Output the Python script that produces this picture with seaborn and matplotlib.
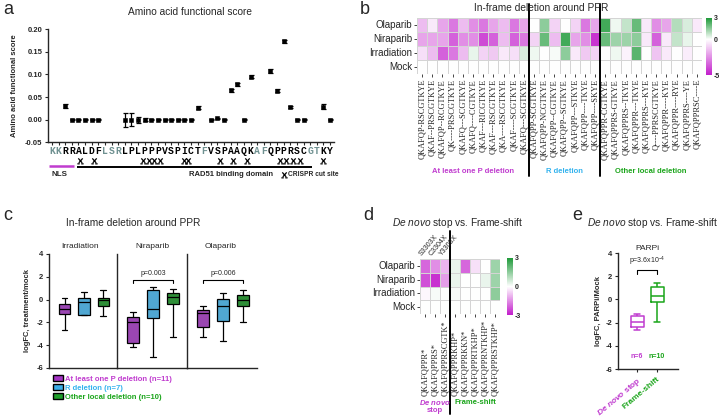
import numpy as np
import pandas as pd
import matplotlib
matplotlib.use("Agg")
import matplotlib.pyplot as plt
import matplotlib.transforms as mtransforms
import seaborn as sns
from matplotlib.colors import LinearSegmentedColormap
from matplotlib.path import Path
from matplotlib.patches import Patch

sns.set_style("ticks")
plt.rcParams['font.family'] = ['Liberation Sans', 'DejaVu Sans']
plt.rcParams['mathtext.fontset'] = 'custom'
plt.rcParams['mathtext.rm'] = 'Liberation Sans'
plt.rcParams['mathtext.it'] = 'Liberation Sans:italic'
plt.rcParams['mathtext.bf'] = 'Liberation Sans:bold:italic'
plt.rcParams['axes.linewidth'] = 1.0

# ---------------- data ----------------
# panel a
residues = list("KKRRALDFLSRLPLPPPVSPICTFVSPAAQKAFQPPRSCGTKY")
aa_score = [np.nan, np.nan, 0.030, 0, 0, 0, 0, 0, np.nan, np.nan, np.nan,
            0, 0, 0, 0, 0, 0, 0, 0, 0, 0, 0, 0.027, np.nan, 0, 0.003, 0,
            0.065, 0.078, 0, 0.095, np.nan, np.nan, 0.108, 0.064, 0.173,
            0.029, 0, 0, np.nan, np.nan, 0.029, 0]
aa_err = [0, 0, 0.004, 0.0015, 0.0015, 0.0015, 0.0015, 0.0015, 0, 0, 0,
          0.015, 0.014, 0.007, 0.003, 0.0015, 0.0015, 0.0015, 0.0015, 0.0015,
          0.0015, 0.0015, 0.004, 0, 0.0015, 0.002, 0.0015, 0.003, 0.003,
          0.0015, 0.004, 0, 0, 0.004, 0.003, 0.003, 0.002, 0.0015, 0.0015,
          0, 0, 0.005, 0.0015]
cut_sites = [5.2, 7.4, 14.8, 15.6, 16.4, 17.3, 20.9, 21.5, 26.4, 28.3, 30.4,
             35.4, 36.4, 37.4, 38.4, 41.9]

# panel b
treatments = ["Olaparib", "Niraparib", "Irradiation", "Mock"]
labels_p_del = ["QKAFQP-RSCGTKYE", "QKAF--PRSCGTKYE", "QKAFQP--RCGTKYE",
                "QK----PRSCGTKYE", "QKAFQ---SCGTKYE", "QKAFQ----CGTKYE",
                "QKAF---RICGTKYE", "QKAF---RSCGTKYE", "QKA----RSCGTKYE",
                "QKAF----SCGTKYE", "QKAFQ---SCGTKYE"]
labels_r_del = ["QKAFQPP-SCGTKYE", "QKAFQPP-NCGTKYE", "QKAFQPP--CGTKYE",
                "QKAFQPP--SGTKYE", "QKAFQPP---STKYE", "QKAFQPP----TKYE",
                "QKAFQPP----SKYE"]
labels_other = ["QKAFQPPR-CGTKYE", "QKAFQPPRS-GTKYE", "QKAFQPPRS--TKYE",
                "QKAFQPPR---TKYE", "QKAFQPPRS---KYE", "Q----PPRSCGTKYE",
                "QKAFQPPR----KYE", "QKAFQPPR----RYE", "QKAFQPPRS----YE",
                "QKAFQPPRSC----E"]
olaparib_b = [-1.5, -0.5, -2, -3, -1.5, -2.5, -3, -2, -1.5, -3, -2,
              0, 1.5, -1, 0, -1, -3, -2,
              2.5, 0.2, 0.8, 2, -0.5, -2.5, -2, 1, 0.5, -0.5]
niraparib_b = [-2, -2, -2, -3.5, -2.5, -2.5, -4, -3.5, -1.5, -3.5, -3,
               -1, 2, -1.5, 2.5, -2, -2.5, -4.5,
               2, 1.3, 1.3, 1.5, -0.5, -3.5, -0.5, 0.8, 0.3, 0]
irradiation_b = [-0.7, -1.5, -3.5, -3, -1.5, 0.3, -1, -1.2, -0.5, -0.7, 0.5,
                 0.2, 0, 0.1, 1.5, -0.5, -1.2, -1,
                 0, 0.2, -0.3, 2.2, 0, -1.3, -0.5, 0, -0.4, 0]
mock_b = [0] * 28

# panel c (five-number summaries: min, q1, median, q3, max)
irr_p_del = [-2.7, -1.24, -0.8, -0.4, 0.18]
irr_r_del = [-1.33, -1.33, -0.2, 0.15, 0.68]
irr_other = [-1.42, -0.6, -0.05, 0.15, 0.88]
nir_p_del = [-4.15, -3.85, -2.0, -1.5, -1.1]
nir_r_del = [-5.0, -1.62, -0.8, 0.88, 1.08]
nir_other = [-3.3, -0.35, 0.2, 0.6, 0.94]
ola_p_del = [-3.25, -2.36, -1.2, -0.9, -0.6]
ola_r_del = [-3.6, -1.9, -0.6, 0.06, 0.6]
ola_other = [-2.0, -0.6, 0.0, 0.44, 0.88]
facets_c = ["Irradiation", "Niraparib", "Olaparib"]
groups_c = ["At least one P deletion", "R deletion", "Other local deletion"]
n_c = [11, 7, 10]
pvals_c = {"Niraparib": "p=0.003", "Olaparib": "p=0.006"}

# panel d
labels_stop = ["QKAFQPPR*", "QKAFQPPRS*", "QKAFQPPRSCGTK*"]
labels_fs = ["QKAFQPPRKHP*", "QKAFQPPRKKN*", "QKAFQPPRTKHP*",
             "QKAFQPPRNTKHP*", "QKAFQPPRSTKHP*"]
top_labels_stop = ["S3303X", "C3304X", "Y3308X"]
olaparib_d = [-2, -1.5, -1, 0.3, -2, -0.4, 0, 1.3]
niraparib_d = [-2.3, -2.7, -1.3, 0.3, 0, 0, 0.3, 1.3]
irradiation_d = [-0.1, 0.1, 0, 0.1, 0, 0, 0, 1.5]
mock_d = [0] * 8

# panel e
stop_e = [-2.65, -2.42, -1.92, -1.45, -1.24]
fs_e = [-1.92, -0.2, 0.33, 1.06, 1.42]
groups_e = ["De novo stop", "Frame-shift"]
n_e = [6, 10]

# ---------------- style ----------------
MAG_T = '#C03CCF'
BLUE_T = '#33B3EE'
GREEN_T = '#1AA51A'
BOX_C = ['#A434C4', '#3AAEE8', '#1E9E2A']
GRAY_AA = '#6F9191'
cmap_b = LinearSegmentedColormap.from_list(
    'b', [(0, '#C21DCB'), (5 / 8, '#FFFFFF'), (1, '#1F9A3A')])
cmap_d = LinearSegmentedColormap.from_list(
    'd', [(0, '#C21DCB'), (0.5, '#FFFFFF'), (1, '#1F9A3A')])

W, H = 722, 418
fig = plt.figure(figsize=(W / 100, H / 100), dpi=100)


def px_axes(l, t, r, b):
    return fig.add_axes([l / W, 1 - b / H, (r - l) / W, (b - t) / H])


def ftext(x, y, s, **kw):
    return fig.text(x / W, 1 - y / H, s, **kw)


def fy(y):
    return 1 - y / H


# panel letters
for let, (x, y) in zip("abcde", [(3, 10), (360, 10), (3, 216), (363, 216), (572, 216)]):
    ftext(x, y, let, fontsize=13, va='center', ha='left')

# ---------------- panel a ----------------
axa = px_axes(48, 29, 334, 142.5)
pos = np.arange(1, len(residues) + 1)
df_a = pd.DataFrame({'pos': pos, 'score': aa_score, 'err': aa_err}).dropna()
axa.errorbar(df_a['pos'], df_a['score'], yerr=df_a['err'], fmt='none',
             ecolor='black', elinewidth=0.9, capsize=1.8, capthick=0.9, zorder=2)
sns.scatterplot(data=df_a, x='pos', y='score', ax=axa, color='black', marker='s',
                s=9, edgecolor='black', linewidth=0.4, zorder=3)
axa.set_xlim(0.4, 43.6)
axa.set_ylim(-0.05, 0.20)
yt = [-0.05, 0, 0.05, 0.10, 0.15, 0.20]
axa.set_yticks(yt)
axa.set_yticklabels([f"{v:.2f}" for v in yt], fontsize=5.5, fontweight='bold')
axa.set_xticks(pos)
axa.set_xticklabels([])
axa.tick_params(axis='x', length=2.5, width=0.8, direction='out')
axa.tick_params(axis='y', length=2.5, width=0.8, pad=1.5)
axa.set_xlabel('')
axa.set_ylabel('Amino acid functional score', fontsize=5.5, fontweight='bold', labelpad=5)
sns.despine(ax=axa)
ftext(190, 12, 'Amino acid functional score', fontsize=7.3, ha='center', va='center')

trans_a = mtransforms.blended_transform_factory(axa.transData, fig.transFigure)
for p, r, s in zip(pos, residues, aa_score):
    axa.text(p, fy(151), r, transform=trans_a, ha='center', va='center',
             fontsize=7, fontweight='bold', family='Liberation Mono',
             color=GRAY_AA if np.isnan(s) else 'black')
vs = [(-0.7, 1.0), (0.55, -0.45), (0.7, 1.0), (-0.55, -0.45),
      (-1.0, -0.75), (-0.25, -0.75), (0.25, -0.75), (1.0, -0.75)]
cs = [Path.MOVETO, Path.LINETO, Path.MOVETO, Path.LINETO,
      Path.MOVETO, Path.LINETO, Path.MOVETO, Path.LINETO]
scis = Path(vs, cs)
axa.plot(cut_sites, [fy(161)] * len(cut_sites), transform=trans_a, ls='none',
         marker=scis, ms=4.5, mew=0.9, color='black', clip_on=False)
axa.plot([0.55, 4.4], [fy(166)] * 2, transform=trans_a, color=MAG_T, lw=1.8,
         clip_on=False, solid_capstyle='butt')
axa.plot([4.85, 40.3], [fy(167)] * 2, transform=trans_a, color='black', lw=1.4,
         clip_on=False, solid_capstyle='butt')
ftext(59, 174, 'NLS', fontsize=5.8, fontweight='bold', ha='center', va='center')
ftext(231, 174, 'RAD51 binding domain', fontsize=5.5, fontweight='bold', ha='center', va='center')
fig.lines.append(plt.Line2D([284 / W], [fy(175)], marker=scis, ms=4.5, mew=0.9,
                            color='black', ls='none', transform=fig.transFigure))
ftext(288, 175, 'CRISPR cut site', fontsize=4.8, fontweight='bold', ha='left', va='center')

# ---------------- panel b ----------------
labels_b = labels_p_del + labels_r_del + labels_other
axb = px_axes(417, 18, 702, 74)
caxb = px_axes(706, 18, 712, 75)
mat_b = pd.DataFrame([olaparib_b, niraparib_b, irradiation_b, mock_b],
                     index=treatments, columns=labels_b)
sns.heatmap(mat_b, ax=axb, cbar_ax=caxb, cmap=cmap_b, vmin=-5, vmax=3,
            linewidths=0.6, linecolor='#d4d4d4', xticklabels=True, yticklabels=True)
axb.set_xlabel('')
axb.set_ylabel('')
axb.set_yticklabels(treatments, rotation=0, fontsize=7)
axb.set_xticklabels(labels_b, rotation=90, fontsize=6, family='Liberation Serif')
axb.tick_params(axis='both', length=2, width=0.6, pad=1.5)
caxb.set_yticks([-5, 0, 3])
caxb.set_yticklabels(['-5', '0', '3'], fontsize=5, fontweight='bold')
caxb.tick_params(length=0, pad=1.5)
ftext(541, 8, 'In-frame deletion around PPR', fontsize=7.3, ha='center', va='center')
trans_b = mtransforms.blended_transform_factory(axb.transData, fig.transFigure)
for xs in [len(labels_p_del), len(labels_p_del) + len(labels_r_del)]:
    axb.plot([xs, xs], [fy(4), fy(176)], transform=trans_b, color='black', lw=1.4,
             clip_on=False)
nb1, nb2 = len(labels_p_del), len(labels_r_del)
for xc, txt, col in [(nb1 / 2, 'At least one P deletion', MAG_T),
                     (nb1 + nb2 / 2, 'R deletion', BLUE_T),
                     (nb1 + nb2 + len(labels_other) / 2, 'Other local deletion', GREEN_T)]:
    axb.text(xc, fy(171), txt, transform=trans_b, ha='center', va='center',
             fontsize=5.5, fontweight='bold', color=col)

# ---------------- panel c ----------------
box_c = {"Irradiation": [irr_p_del, irr_r_del, irr_other],
         "Niraparib": [nir_p_del, nir_r_del, nir_other],
         "Olaparib": [ola_p_del, ola_r_del, ola_other]}
rows = []
for f in facets_c:
    for g, vals in zip(groups_c, box_c[f]):
        for v in vals:
            rows.append((f, g, v))
df_c = pd.DataFrame(rows, columns=['facet', 'group', 'logFC'])
ftext(133, 223, 'In-frame deletion around PPR', fontsize=7.3, ha='center', va='center')
c_bounds = [(49, 117), (117, 187), (187, 257)]
c_title_x = [80, 152, 221]
for i, f in enumerate(facets_c):
    l, r = c_bounds[i]
    ax = px_axes(l, 254, r, 368)
    sub = df_c[df_c['facet'] == f]
    sns.boxplot(data=sub, x='group', y='logFC', hue='group', order=groups_c,
                hue_order=groups_c, palette=BOX_C, width=0.6, whis=(0, 100),
                linewidth=0.9, linecolor='black', legend=False, ax=ax)
    ax.set_xlim(-0.8, 2.7)
    ax.set_ylim(-6, 4)
    ax.set_xticks([])
    ax.set_xlabel('')
    sns.despine(ax=ax)
    if i == 0:
        ax.set_yticks([-6, -4, -2, 0, 2, 4])
        ax.set_yticklabels(['-6', '-4', '-2', '0', '2', '4'], fontsize=5.5, fontweight='bold')
        ax.tick_params(axis='y', length=2.5, width=0.8, pad=1.5)
        ax.set_ylabel('logFC, treatment/mock', fontsize=5.5, fontweight='bold', labelpad=4)
    else:
        ax.set_yticks([])
        ax.set_ylabel('')
    ftext(c_title_x[i], 247, f, fontsize=6, ha='center', va='center')
    if f in pvals_c:
        yb = 1.75
        ax.plot([0, 0, 2, 2], [yb - 0.3, yb, yb, yb - 0.3], color='black', lw=0.8)
        ax.text(1, yb + 0.2, pvals_c[f], ha='center', va='bottom', fontsize=5)
handles = [Patch(facecolor=c, edgecolor='black', linewidth=1.0) for c in BOX_C]
leg_labels = [f"{g} (n={n})" for g, n in zip(groups_c, n_c)]
fig.legend(handles, leg_labels, loc='upper left', bbox_to_anchor=(53 / W, fy(375)),
           frameon=False, prop={'size': 5.5, 'weight': 'bold'},
           labelcolor=[MAG_T, BLUE_T, GREEN_T], handlelength=1.3, handleheight=0.9,
           labelspacing=0.15, handletextpad=0.3, borderaxespad=0, borderpad=0)

# ---------------- panel d ----------------
labels_d = labels_stop + labels_fs
axd = px_axes(420, 259, 500, 314)
caxd = px_axes(507, 258, 513, 315)
mat_d = pd.DataFrame([olaparib_d, niraparib_d, irradiation_d, mock_d],
                     index=treatments, columns=labels_d)
sns.heatmap(mat_d, ax=axd, cbar_ax=caxd, cmap=cmap_d, vmin=-3, vmax=3,
            linewidths=0.6, linecolor='#d4d4d4', xticklabels=True, yticklabels=True)
axd.set_xlabel('')
axd.set_ylabel('')
axd.set_yticklabels(treatments, rotation=0, fontsize=7)
axd.set_xticklabels([])
axd.tick_params(axis='both', length=2, width=0.6, pad=1.5)
caxd.set_yticks([-3, 0, 3])
caxd.set_yticklabels(['-3', '0', '3'], fontsize=5, fontweight='bold')
caxd.tick_params(length=0, pad=1.5)
trans_d = mtransforms.blended_transform_factory(axd.transData, fig.transFigure)
for j, lab in enumerate(labels_d):
    axd.text(j + 0.5, fy(396), lab, transform=trans_d, rotation=90, ha='center',
             va='bottom', fontsize=6, family='Liberation Serif')
for j, lab in enumerate(top_labels_stop):
    axd.text(j + 0.3, fy(257), lab, transform=trans_d, rotation=50, ha='left',
             va='bottom', fontsize=5, rotation_mode='anchor')
ns = len(labels_stop)
axd.plot([ns, ns], [fy(231), fy(414)], transform=trans_d, color='black', lw=1.4,
         clip_on=False)
axd.text(ns / 2, fy(406), r'$\mathbf{De\ novo}$' + '\nstop', transform=trans_d,
         ha='center', va='center', fontsize=5.5, fontweight='bold', color=MAG_T,
         linespacing=1.1)
axd.text(ns + len(labels_fs) / 2, fy(402), 'Frame-shift', transform=trans_d,
         ha='center', va='center', fontsize=5.5, fontweight='bold', color=GREEN_T)
ftext(392, 223, r'$\mathit{De\ novo}$ stop vs. Frame-shift', fontsize=7.3, ha='left', va='center')

# ---------------- panel e ----------------
df_e = pd.DataFrame({'group': [groups_e[0]] * len(stop_e) + [groups_e[1]] * len(fs_e),
                     'logFC': stop_e + fs_e})
axe = px_axes(618, 253, 678, 369)
sns.boxplot(data=df_e, x='group', y='logFC', hue='group', order=groups_e,
            hue_order=groups_e, palette=[MAG_T, GREEN_T], fill=False, width=0.65,
            whis=(0, 100), linewidth=1.1, legend=False, ax=axe)
axe.set_xlim(-0.95, 2.05)
axe.set_ylim(-6, 4)
axe.set_yticks([-6, -4, -2, 0, 2, 4])
axe.set_yticklabels(['-6', '-4', '-2', '0', '2', '4'], fontsize=5.5, fontweight='bold')
axe.tick_params(axis='y', length=2.5, width=0.8, pad=1.5)
axe.set_xticks([0, 1])
axe.set_xticklabels([r'$\mathbf{De\ novo}$ stop', 'Frame-shift'], rotation=40,
                    ha='right', va='top', rotation_mode='anchor', fontsize=6,
                    fontweight='bold')
for tl, c in zip(axe.get_xticklabels(), [MAG_T, GREEN_T]):
    tl.set_color(c)
axe.tick_params(axis='x', length=2.5, width=0.8, pad=2)
axe.set_xlabel('')
axe.set_ylabel('logFC, PARPi/Mock', fontsize=5.5, fontweight='bold', labelpad=3)
sns.despine(ax=axe)
for k, (n, c) in enumerate(zip(n_e, [MAG_T, GREEN_T])):
    axe.text(k, -4.9, f"n={n}", ha='center', va='center', fontsize=5, fontweight='bold', color=c)
axe.plot([0, 0, 1, 1], [2.2, 2.5, 2.5, 2.2], color='black', lw=0.8)
axe.text(0.5, 2.7, r'p=3.6x10$^{-4}$', ha='center', va='bottom', fontsize=5)
ftext(647, 248, 'PARPi', fontsize=6, ha='center', va='center')
ftext(718, 223, r'$\mathit{De\ novo}$ stop vs. Frame-shift', fontsize=7.3, ha='right', va='center')

fig.savefig('out.png', dpi=100)
